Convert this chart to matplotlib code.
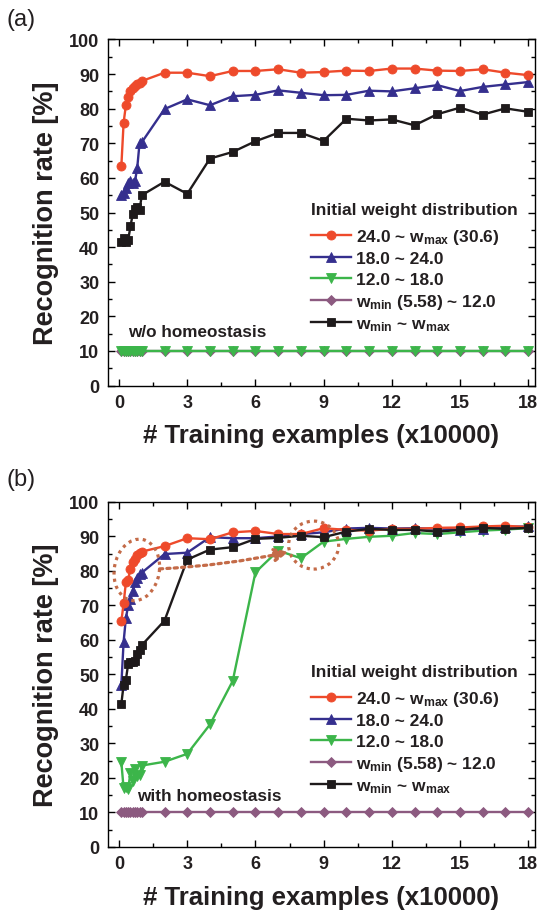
import matplotlib
matplotlib.use('Agg')
import matplotlib.pyplot as plt
from matplotlib.patches import Ellipse
from matplotlib.transforms import ScaledTranslation

# training steps (x10000): dense early sampling then every 10000
steps = [0.1, 0.2, 0.3, 0.4, 0.5, 0.6, 0.7, 0.8, 0.9, 1.0,
         2, 3, 4, 5, 6, 7, 8, 9, 10, 11, 12, 13, 14, 15, 16, 17, 18]

labels = [r'24.0 ~ w$_{max}$ (30.6)', '18.0 ~ 24.0', '12.0 ~ 18.0',
          r'w$_{min}$ (5.58) ~ 12.0', r'w$_{min}$ ~ w$_{max}$']

# (a) without homeostasis
red_a = [63.4, 76.0, 81.0, 83.5, 85.0, 86.0, 86.5, 87.0, 87.5, 88.0,
         90.4, 90.4, 89.4, 90.9, 90.9, 91.4, 90.4, 90.6, 91.0, 90.9,
         91.6, 91.6, 91.0, 90.9, 91.4, 90.4, 89.7]
blue_a = [55.0, 55.5, 57.0, 58.5, 59.0, 58.5, 59.0, 63.0, 70.0, 70.3,
          79.9, 82.7, 81.0, 83.6, 84.0, 85.3, 84.6, 83.9, 84.0, 85.2,
          85.0, 85.9, 86.8, 85.1, 86.3, 87.0, 87.7]
green_a = [10.0] * 27
purple_a = [10.0] * 27
black_a = [41.5, 42.5, 41.5, 42.0, 46.0, 49.5, 51.0, 51.5, 50.7, 55.0,
           58.9, 55.4, 65.6, 67.5, 70.6, 73.0, 73.0, 70.7, 77.1, 76.6,
           76.9, 75.2, 78.4, 80.3, 78.3, 80.1, 79.1]

# (b) with homeostasis
red_b = [65.4, 70.6, 76.7, 77.5, 80.6, 82.5, 83.5, 84.5, 85.3, 85.6,
         87.2, 89.5, 89.2, 91.2, 91.6, 90.7, 90.7, 92.4, 91.9, 91.7,
         92.2, 92.2, 92.5, 92.6, 92.9, 93.1, 92.7]
blue_b = [47.0, 59.5, 66.3, 70.0, 72.0, 74.3, 76.7, 78.0, 79.1, 79.5,
          84.9, 85.3, 89.8, 89.5, 89.5, 90.0, 90.7, 91.2, 92.3, 92.5,
          92.3, 92.4, 92.2, 92.0, 92.3, 92.8, 92.9]
green_b = [24.5, 17.0, 17.5, 16.8, 21.5, 19.0, 22.5, 20.5, 21.0, 23.6,
           24.7, 27.0, 35.5, 48.1, 79.6, 85.9, 83.7, 88.5, 89.3, 89.9,
           90.2, 91.0, 90.7, 91.2, 91.7, 92.0, 92.4]
purple_b = [10.0] * 27
black_b = [41.5, 47.0, 48.5, 53.0, 53.5, 53.5, 54.0, 56.0, 57.0, 58.5,
           65.6, 83.3, 86.2, 86.9, 89.3, 89.6, 90.2, 89.8, 91.4, 92.2,
           91.9, 91.9, 91.4, 91.9, 92.5, 92.2, 92.5]

RED = '#EE4A2B'
BLUE = '#352F8E'
GREEN = '#3CB54A'
PURPLE = '#8C5A80'
BLACK = '#1E1A1B'
BROWN = '#C46B48'
TXT = '#231F20'

plt.rcParams.update({
    'font.family': 'Liberation Sans',
    'font.weight': 'bold',
    'mathtext.fontset': 'custom',
    'mathtext.bf': 'Liberation Sans:bold',
    'mathtext.rm': 'Liberation Sans:bold',
    'mathtext.default': 'bf',
    'axes.linewidth': 1.0,
})

fig = plt.figure(figsize=(5.38, 9.2), dpi=100, facecolor='white')
ax_a = fig.add_axes([0.2002, 0.5798, 0.7942, 0.3762])
ax_b = fig.add_axes([0.2002, 0.0783, 0.7942, 0.3750])


def draw_panel(ax, red, blue, green, purple, black, note, note_xy, order):
    series = {
        'red': (red, RED, 'o', 6.5),
        'blue': (blue, BLUE, '^', 6.5),
        'green': (green, GREEN, 'v', 6.5),
        'purple': (purple, PURPLE, 'D', 5.0),
        'black': (black, BLACK, 's', 6.0),
    }
    handles = {}
    for z, key in enumerate(order):
        vals, col, mk, ms = series[key]
        h, = ax.plot(steps, vals, color=col, marker=mk, ms=ms, lw=1.7,
                     mec=col, mew=0.6, zorder=3 + z)
        handles[key] = h

    ax.set_xlim(-0.5, 18.3)
    ax.set_ylim(0, 100)
    ax.set_xticks([0, 3, 6, 9, 12, 15, 18])
    ax.set_xticks([1.5, 4.5, 7.5, 10.5, 13.5, 16.5], minor=True)
    ax.set_yticks(range(0, 101, 10))
    ax.set_yticks(range(5, 100, 10), minor=True)
    ax.tick_params(which='both', direction='in', top=True, right=True,
                   width=1.0, labelsize=13, labelcolor=TXT, pad=6)
    ax.tick_params(which='major', length=5)
    ax.tick_params(which='minor', length=3)
    ax.set_xlabel('# Training examples (x10000)', fontsize=18.5,
                  fontweight='bold', labelpad=9, color=TXT)
    ax.set_ylabel('Recognition rate [%]', fontsize=19.5,
                  fontweight='bold', labelpad=7, color=TXT)

    ax.text(note_xy[0], note_xy[1], note, fontsize=12.3, color=TXT,
            va='center', ha='left', zorder=10)

    leg_keys = ['red', 'blue', 'green', 'purple', 'black']
    leg = ax.legend([handles[k] for k in leg_keys], labels,
                    title='Initial weight distribution', loc='upper left',
                    bbox_to_anchor=(0.455, 0.555), frameon=False,
                    fontsize=12.5, title_fontproperties={'size': 12.5, 'weight': 'bold'},
                    alignment='left', handlelength=2.3, handletextpad=0.3,
                    labelspacing=0.3, borderpad=0, numpoints=1)
    leg._legend_box.sep = 7
    for t in leg.get_texts():
        t.set_color(TXT)
    leg.get_title().set_color(TXT)
    return ax


draw_panel(ax_a, red_a, blue_a, green_a, purple_a, black_a,
           'w/o homeostasis', (0.4, 15.5),
           ['purple', 'green', 'black', 'blue', 'red'])
draw_panel(ax_b, red_b, blue_b, green_b, purple_b, black_b,
           'with homeostasis', (0.8, 14.9),
           ['green', 'purple', 'blue', 'red', 'black'])

# dotted call-outs in panel (b)
dots = (0, (1, 1.3))
for cx, cy, w, h, ang in [(0.78, 80.3, 0.45, 0.62, -10), (8.56, 87.5, 0.50, 0.48, 0)]:
    ring = Ellipse((0, 0), w, h, angle=ang, fill=False, ec=BROWN, lw=2.3,
                   ls=dots, zorder=20,
                   transform=fig.dpi_scale_trans + ScaledTranslation(cx, cy, ax_b.transData))
    ax_b.add_patch(ring)
ax_b.annotate('', xy=(7.45, 85.5), xytext=(1.78, 80.6),
              arrowprops=dict(arrowstyle='-|>,head_length=0.8,head_width=0.4',
                              color=BROWN, lw=2.3, ls=dots,
                              connectionstyle='arc3,rad=0.04',
                              shrinkA=0, shrinkB=0),
              zorder=20)

fig.text(0.012, 0.99, '(a)', fontsize=17, fontweight='normal', va='top', color=TXT)
fig.text(0.012, 0.49, '(b)', fontsize=17, fontweight='normal', va='top', color=TXT)

fig.savefig('out.png', dpi=100, facecolor='white')
